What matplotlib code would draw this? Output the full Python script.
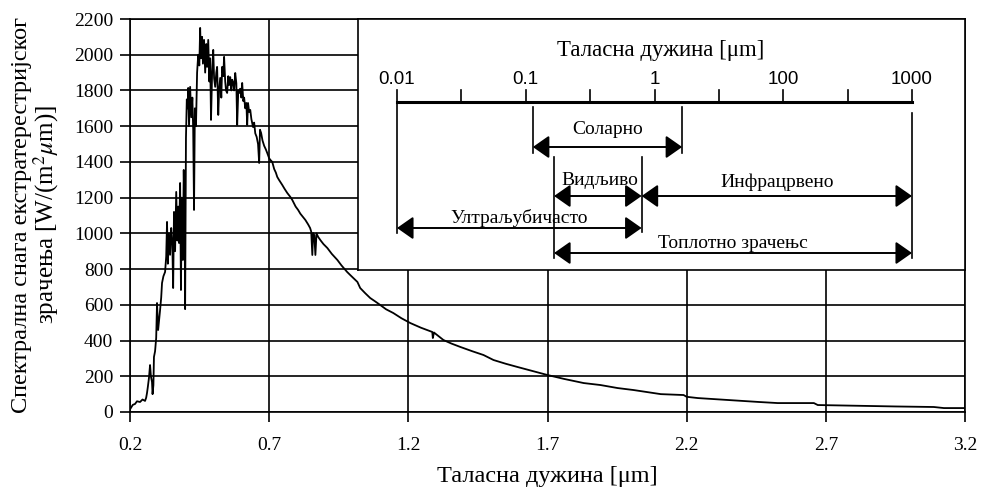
import numpy as np
import matplotlib
matplotlib.use("Agg")
import matplotlib.pyplot as plt

plt.rcParams['font.family'] = ['Liberation Serif', 'DejaVu Serif']
plt.rcParams['mathtext.fontset'] = 'stix'

# спектар (очитано са слике)
talasna = [0.200, 0.210, 0.218, 0.225, 0.236, 0.245, 0.254, 0.258, 0.261, 0.264,
           0.268, 0.272, 0.275, 0.279, 0.281, 0.284, 0.286, 0.290, 0.294, 0.297,
           0.301, 0.305, 0.308, 0.312, 0.315, 0.320, 0.326, 0.330, 0.333, 0.336,
           0.340, 0.344, 0.348, 0.352, 0.355, 0.358, 0.362, 0.366, 0.370, 0.373,
           0.376, 0.380, 0.383, 0.386, 0.390, 0.393, 0.396, 0.398, 0.401, 0.404,
           0.407, 0.409, 0.412, 0.416, 0.420, 0.424, 0.427, 0.430, 0.433, 0.437,
           0.441, 0.445, 0.449, 0.452, 0.455, 0.459, 0.462, 0.466, 0.470, 0.474,
           0.477, 0.481, 0.485, 0.488, 0.491, 0.495, 0.499, 0.502, 0.506, 0.510,
           0.513, 0.517, 0.520, 0.524, 0.528, 0.531, 0.535, 0.538, 0.542, 0.545,
           0.549, 0.553, 0.556, 0.560, 0.564, 0.567, 0.571, 0.574, 0.578, 0.582,
           0.585, 0.589, 0.592, 0.596, 0.600, 0.603, 0.607, 0.610, 0.614, 0.618,
           0.621, 0.624, 0.628, 0.632, 0.636, 0.642, 0.646, 0.650, 0.655, 0.660,
           0.664, 0.667, 0.671, 0.676, 0.682, 0.688, 0.693, 0.700, 0.705, 0.711,
           0.718, 0.724, 0.729, 0.735, 0.740, 0.747, 0.755, 0.765, 0.776, 0.783,
           0.795, 0.804, 0.812, 0.822, 0.830, 0.840, 0.847, 0.851, 0.855, 0.858,
           0.862, 0.866, 0.870, 0.876, 0.885, 0.895, 0.909, 0.925, 0.945, 0.960,
           0.980, 0.991, 1.017, 1.027, 1.045, 1.063, 1.080, 1.099, 1.120, 1.146,
           1.175, 1.207, 1.245, 1.286, 1.288, 1.292, 1.326, 1.355, 1.387, 1.430,
           1.470, 1.506, 1.550, 1.592, 1.650, 1.700, 1.760, 1.830, 1.890, 1.952,
           2.009, 2.107, 2.189, 2.200, 2.240, 2.320, 2.394, 2.460, 2.527, 2.657,
           2.671, 2.837, 2.950, 3.088, 3.124, 3.200]
snaga = [15, 40, 45, 60, 56, 70, 62, 80, 106, 140,
         190, 263, 200, 168, 100, 150, 308, 340, 414, 610,
         459, 520, 571, 640, 722, 760, 784, 870, 1064, 830,
         1000, 880, 1030, 940, 694, 1120, 900, 1232, 960, 1150,
         946, 1282, 683, 1200, 851, 1355, 1100, 576, 1534, 1750,
         1700, 1814, 1600, 1820, 1650, 1760, 1580, 1131, 1700, 1600,
         1900, 2000, 1940, 2150, 1980, 2100, 1950, 2083, 1900, 2060,
         1932, 2083, 1850, 1980, 1635, 1900, 2027, 1870, 1820, 1900,
         1932, 1663, 1800, 1870, 1760, 1932, 1880, 1988, 1850, 1800,
         1786, 1880, 1830, 1875, 1800, 1860, 1842, 1800, 1898, 1840,
         1607, 1800, 1786, 1810, 1760, 1842, 1740, 1760, 1700, 1730,
         1607, 1730, 1680, 1691, 1640, 1595, 1620, 1560, 1540, 1500,
         1394, 1580, 1562, 1520, 1490, 1470, 1450, 1420, 1410, 1400,
         1360, 1340, 1316, 1300, 1288, 1271, 1250, 1226, 1204, 1187,
         1150, 1131, 1110, 1090, 1075, 1050, 1030, 1010, 879, 1002,
         990, 879, 1000, 980, 960, 940, 918, 885, 851, 820,
         784, 767, 728, 694, 665, 638, 620, 599, 575, 554,
         525, 498, 472, 448, 414, 445, 403, 383, 364, 340,
         319, 291, 270, 252, 228, 207, 185, 162, 151, 134,
         123, 100, 95, 85, 78, 70, 62, 56, 50, 50,
         39, 34, 31, 28, 22, 22]

x_podeoci = [0.2, 0.7, 1.2, 1.7, 2.2, 2.7, 3.2]
y_podeoci = list(range(0, 2201, 200))

# уметак: опсези таласних дужина (положаји на схематској скали 0..8)
skala_oznake = ['0.01', '0.1', '1', '100', '1000']
skala_pol = [0, 2, 4, 6, 8]
opsezi = [
    ('Соларно', 2.11, 4.43, 147, 129),
    ('Видљиво', 2.44, 3.80, 196, 180),
    ('Инфрацрвено', 3.80, 8.0, 196, 182),
    ('Ултраљубичасто', 0.0, 3.80, 228, 218),
    ('Топлотно зрачењс', 2.44, 8.0, 253, 243),
]

fig = plt.figure(figsize=(9.82, 4.91), dpi=100)
ax = fig.add_axes([0.1324, 0.1609, 0.8503, 0.8004])

ax.plot(talasna, snaga, color='black', lw=1.3, zorder=3)
ax.set_xlim(0.2, 3.2)
ax.set_ylim(0, 2200)
ax.set_xticks(x_podeoci)
ax.set_xticklabels([f'{v:.1f}' for v in x_podeoci])
ax.set_yticks(y_podeoci)
ax.grid(True, color='black', lw=1.2)
ax.tick_params(direction='out', length=7, width=1.2, labelsize=14)
ax.tick_params(axis='x', pad=11)
ax.tick_params(axis='y', pad=5)
for s in ax.spines.values():
    s.set_linewidth(1.2)
ax.set_xlabel('Таласна дужина [μm]', fontsize=17.5, labelpad=9)

fig.text(22 / 982, 0.562, 'Спектрална снага екстратерестријског',
         rotation=90, ha='center', va='center', fontsize=17.5)
fig.text(46 / 982, 0.562, r'зрачења [W/(m$^2$$\mu$m)]',
         rotation=90, ha='center', va='center', fontsize=18)

# уметак
ins = fig.add_axes([358 / 982, 0.4501, (965 - 358) / 982, 0.9613 - 0.4501])
ins.set_facecolor('white')
ins.set_xlim((358 - 397) / 64.375, (965 - 397) / 64.375)
ins.set_ylim(270, 19)
ins.set_xticks([])
ins.set_yticks([])
for s in ins.spines.values():
    s.set_linewidth(1.2)

ins.plot([0, 8], [102, 102], color='black', lw=2.2)
for t in range(9):
    ins.plot([t, t], [90, 102], color='black', lw=1.2)
for p, lab in zip(skala_pol, skala_oznake):
    ins.text(p, 79, lab, ha='center', va='center', fontsize=13.5,
             family=['Liberation Sans', 'DejaVu Sans'])
ins.text(4.1, 50, 'Таласна дужина [μm]', ha='center', va='center', fontsize=16.5)

# вертикалне граничне линије
ins.plot([0, 0], [102, 233], color='black', lw=1.2)
ins.plot([8, 8], [113, 258], color='black', lw=1.2)
ins.plot([2.11, 2.11], [107, 153], color='black', lw=1.2)
ins.plot([4.43, 4.43], [107, 153], color='black', lw=1.2)
ins.plot([2.44, 2.44], [157, 258], color='black', lw=1.2)
ins.plot([3.80, 3.80], [157, 232], color='black', lw=1.2)

for ime, x0, x1, ya, yt in opsezi:
    ins.annotate('', xy=(x1, ya), xytext=(x0, ya),
                 arrowprops=dict(arrowstyle='<|-|>,head_length=1.0,head_width=0.7',
                                 mutation_scale=10, lw=1.4, color='black',
                                 shrinkA=0, shrinkB=0))
    ins.text((x0 + x1) / 2 if ime != 'Видљиво' else 3.15, yt, ime,
             ha='center', va='center', fontsize=14)

fig.savefig('out.png', dpi=100)
